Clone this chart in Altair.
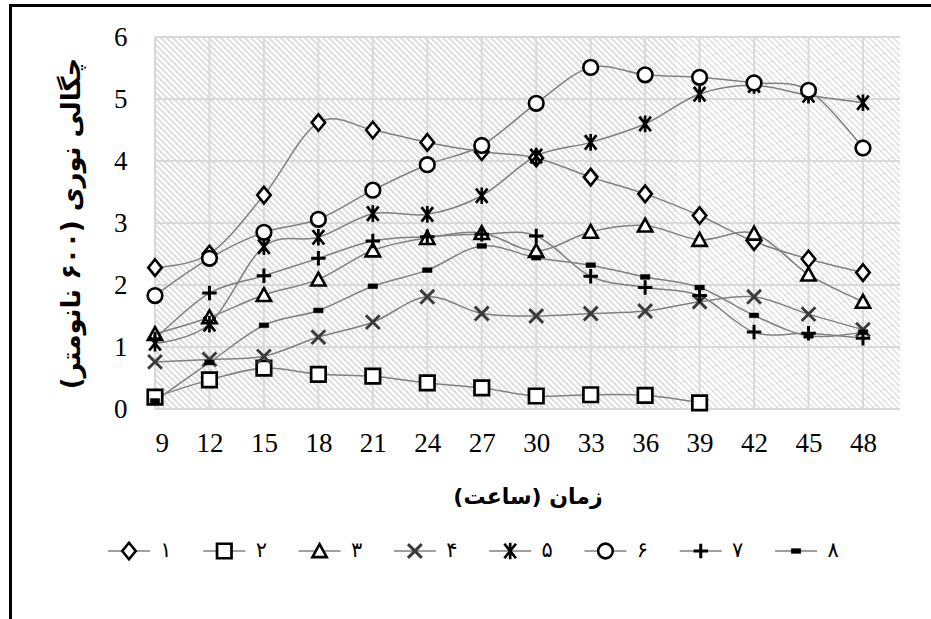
import altair as alt
import pandas as pd

# ---------------- data ----------------
hours = [9, 12, 15, 18, 21, 24, 27, 30, 33, 36, 39, 42, 45, 48]
series_names = ["1", "2", "3", "4", "5", "6", "7", "8"]
legend_labels = ["۱", "۲", "۳", "۴", "۵", "۶", "۷", "۸"]
s1 = [2.28, 2.50, 3.45, 4.62, 4.50, 4.30, 4.15, 4.05, 3.74, 3.47, 3.12, 2.70, 2.42, 2.20]
s2 = [0.19, 0.47, 0.66, 0.56, 0.53, 0.42, 0.34, 0.21, 0.23, 0.22, 0.10]
s3 = [1.21, 1.48, 1.84, 2.09, 2.56, 2.76, 2.84, 2.55, 2.86, 2.96, 2.73, 2.83, 2.17, 1.73]
s4 = [0.76, 0.80, 0.85, 1.16, 1.40, 1.81, 1.54, 1.50, 1.54, 1.58, 1.73, 1.81, 1.53, 1.28]
s5 = [1.06, 1.37, 2.62, 2.77, 3.15, 3.14, 3.44, 4.08, 4.30, 4.60, 5.08, 5.22, 5.06, 4.94]
s6 = [1.83, 2.43, 2.85, 3.06, 3.53, 3.94, 4.25, 4.93, 5.51, 5.39, 5.35, 5.26, 5.14, 4.21]
s7 = [1.13, 1.87, 2.15, 2.43, 2.71, 2.78, 2.82, 2.79, 2.14, 1.96, 1.83, 1.24, 1.22, 1.14]
s8 = [0.13, 0.75, 1.35, 1.59, 1.98, 2.24, 2.63, 2.44, 2.32, 2.13, 1.96, 1.51, 1.18, 1.24]
series_values = [s1, s2, s3, s4, s5, s6, s7, s8]
y_ticks = [0, 1, 2, 3, 4, 5, 6]

x_title = "\u200fزمان (ساعت)\u200f"
y_title = "\u200fچگالی نوری (۶۰۰ نانومتر)\u200f"

# ---------------- styles ----------------
W, H = 745, 372
XMAX = 50.04
shapes = [
    "M0,-1.1L0.9,0L0,1.1L-0.9,0Z",                     # diamond
    "square",                                          # square
    "M0,-0.95L1,0.85L-1,0.85Z",                        # triangle
    "M-1,-1L1,1M-1,1L1,-1",                            # x
    "M-0.8,-1L0.8,1M-0.8,1L0.8,-1M0,-1.15L0,1.15",     # asterisk
    "circle",                                          # circle
    "M-1,0L1,0M0,-1L0,1",                              # plus
    "M-1,-0.5L1,-0.5L1,0.5L-1,0.5Z",                   # dash
]
fills = ["white", "white", "white", "white", "white", "white", "white", "black"]
strokes = ["black", "black", "black", "#3a3a3a", "black", "black", "black", "black"]
widths = [2.6, 2.7, 2.6, 2.9, 2.7, 2.6, 3.0, 0.5]
sizes = [225, 210, 205, 190, 210, 215, 210, 90]

rows = []
for name, vals in zip(series_names, series_values):
    for h, v in zip(hours, vals):
        rows.append({"series": name, "hour": h, "value": v})
df = pd.DataFrame(rows)

LABEL_FONT = "Liberation Serif"
TITLE_FONT = "DejaVu Sans"

xs = alt.Scale(domain=[9, XMAX], nice=False, zero=False)
ys = alt.Scale(domain=[0, 6], nice=False, zero=False)
xa = alt.Axis(values=hours, title=x_title, labelPadding=21, titlePadding=30,
              labelFont=LABEL_FONT, labelFontSize=27, labelColor="black",
              titleFont=TITLE_FONT, titleFontSize=22, titleFontWeight="bold", titleColor="black",
              ticks=False, domain=False, grid=False)
ya = alt.Axis(values=y_ticks, title=y_title, labelPadding=28, titlePadding=29,
              labelFont=LABEL_FONT, labelFontSize=27, labelColor="black",
              titleFont=TITLE_FONT, titleFontSize=26, titleFontWeight="bold", titleColor="black",
              ticks=False, domain=False, grid=False)

shape_enc = alt.Shape("series:N", scale=alt.Scale(domain=series_names, range=shapes), legend=None)
fill_enc = alt.Fill("series:N", scale=alt.Scale(type="ordinal", domain=series_names, range=fills), legend=None)
stroke_enc = alt.Stroke("series:N", scale=alt.Scale(type="ordinal", domain=series_names, range=strokes), legend=None)
sw_enc = alt.StrokeWidth("series:N", scale=alt.Scale(type="ordinal", domain=series_names, range=widths), legend=None)
size_enc = alt.Size("series:N", scale=alt.Scale(type="ordinal", domain=series_names, range=sizes), legend=None)

# hatch-like background via a striped linear gradient
n_per = 186
stops = []
for k in range(n_per):
    a = k / n_per
    b = (k + 0.55) / n_per
    c = (k + 1) / n_per
    stops += [
        {"offset": a, "color": "#ffffff"},
        {"offset": b, "color": "#ffffff"},
        {"offset": b, "color": "#e0e0e0"},
        {"offset": c, "color": "#e0e0e0"},
    ]
gradient = {"gradient": "linear", "x1": 0, "y1": 1, "x2": 1.2, "y2": 0.4, "stops": stops}

one = pd.DataFrame({"a": [0]})

bg = alt.Chart(one).mark_rect(fill=gradient).encode(
    x=alt.X(datum=9, scale=xs, axis=xa),
    x2=alt.X2(datum=XMAX),
    y=alt.Y(datum=0, scale=ys, axis=ya),
    y2=alt.Y2(datum=6),
)

grid_v = alt.Chart(pd.DataFrame({"t": hours})).mark_rule(color="#d9d9d9", strokeWidth=2).encode(
    x=alt.X("t:Q", scale=xs, axis=xa),
    y=alt.Y(datum=0, scale=ys, axis=ya),
    y2=alt.Y2(datum=6),
)
grid_h = alt.Chart(pd.DataFrame({"t": y_ticks})).mark_rule(color="#d9d9d9", strokeWidth=2).encode(
    y=alt.Y("t:Q", scale=ys, axis=ya),
    x=alt.X(datum=9, scale=xs, axis=xa),
    x2=alt.X2(datum=XMAX),
)

lines = alt.Chart(df).mark_line(color="#808080", strokeWidth=1.5, interpolate="cardinal").encode(
    x=alt.X("hour:Q", scale=xs, axis=xa),
    y=alt.Y("value:Q", scale=ys, axis=ya),
    detail="series:N",
)

points = alt.Chart(df).mark_point(opacity=1).encode(
    x=alt.X("hour:Q", scale=xs, axis=xa),
    y=alt.Y("value:Q", scale=ys, axis=ya),
    shape=shape_enc, fill=fill_enc, stroke=stroke_enc, strokeWidth=sw_enc, size=size_enc,
)

main = alt.layer(bg, grid_v, grid_h, lines, points)

# ---------------- legend ----------------
leg_df = pd.DataFrame({"idx": list(range(8)), "series": series_names, "label": legend_labels})
lxs = alt.Scale(domain=[0.273, 8.091], nice=False, zero=False)
LEG_Y = 514

leg_line = alt.Chart(leg_df).mark_point(
    shape="M-1,0L1,0", size=1764, color="#808080", strokeWidth=1.5, opacity=1
).encode(x=alt.X("idx:Q", scale=lxs, axis=None), y=alt.value(LEG_Y))

leg_sym = alt.Chart(leg_df).mark_point(opacity=1).encode(
    x=alt.X("idx:Q", scale=lxs, axis=None), y=alt.value(LEG_Y),
    shape=shape_enc, fill=fill_enc, stroke=stroke_enc, strokeWidth=sw_enc, size=size_enc,
)

leg_text = alt.Chart(leg_df).mark_text(
    font="DejaVu Sans", fontSize=21, dx=37, align="center", baseline="middle", color="black"
).encode(x=alt.X("idx:Q", scale=lxs, axis=None), y=alt.value(LEG_Y), text="label:N")

border = alt.Chart(one).mark_rect(fillOpacity=0, stroke="black", strokeWidth=3).encode(
    x=alt.value(-144.5), x2=alt.value(1100), y=alt.value(-31.5), y2=alt.value(900)
)

legend = alt.layer(leg_line, leg_sym, leg_text, border)

chart = alt.layer(main, legend).resolve_scale(x="independent").properties(
    width=W, height=H,
    padding={"left": 155, "top": 37, "right": 31, "bottom": 210},
    autosize=alt.AutoSizeParams(type="none"),
    background="white",
).configure_view(stroke=None)

chart.save("out.html", embed_options={"renderer": "svg", "actions": False})
